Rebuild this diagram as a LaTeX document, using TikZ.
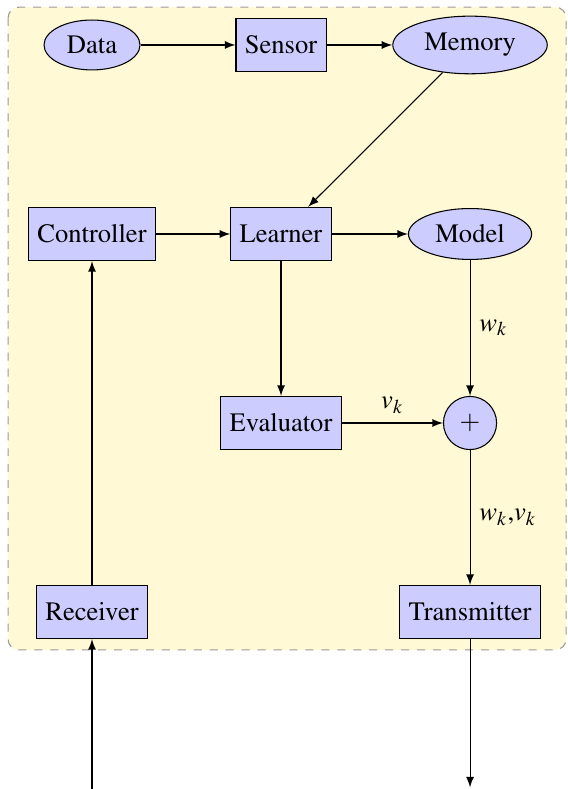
\documentclass[tikz,border=0pt]{standalone}
\usepackage[T1]{fontenc}
\usepackage{mathptmx}
\usetikzlibrary{shapes.geometric}

\begin{document}
\begin{tikzpicture}[
	block/.style={draw, fill=cBlock, minimum height=2em},
	blob/.style={draw, fill=cBlock, ellipse},
	sum/.style={draw, fill=cBlock, circle, minimum size=2em},
	link/.style={-latex}]
	\definecolor{cBackground}{HTML}{FFF9D6}
	\definecolor{cBorder}{HTML}{999999}
	\definecolor{cBlock}{HTML}{CCCCFF}

	\useasboundingbox (-1.217,0.595) rectangle (6.283,-9.841);

	\draw[cBorder, fill=cBackground, dashed, rounded corners] (-1.11,0.5) rectangle (6.27,-8.0);

	\node[blob] (data) at (0,0) {Data};
	\node[block] (sensor) at (2.5,0) {Sensor};
	\node[blob] (memory) at (5,0) {Memory};

	\node[block] (controller) at (0,-2.5) {Controller};
	\node[block] (learner) at (2.5,-2.5) {Learner};
	\node[blob] (model) at (5,-2.5) {Model};

	\node[block] (evaluator) at (2.5,-5) {Evaluator};
	\node[sum] (plus) at (5,-5) {$+$};

	\node[block] (receiver) at (0,-7.5) {Receiver};
	\node[block] (transmitter) at (5,-7.5) {Transmitter};

	\coordinate (input) at (0,-9.841);
	\coordinate (output) at (5,-9.82);

	\draw[link] (data) -- (sensor);
	\draw[link] (sensor) -- (memory);
	\draw[link] (memory) -- (learner);
	\draw[link] (controller) -- (learner);
	\draw[link] (learner) -- (model);
	\draw[link] (learner) -- (evaluator);
	\draw[link] (model) -- node[right] {$w_k$} (plus);
	\draw[link] (evaluator) -- node[above] {$v_k$} (plus);
	\draw[link] (plus) -- node[right] {$w_k$,$v_k$} (transmitter);
	\draw[link] (receiver) -- (controller);
	\draw[link] (input) -- (receiver);
	\draw[link] (transmitter) -- (output);
\end{tikzpicture}
\end{document}
